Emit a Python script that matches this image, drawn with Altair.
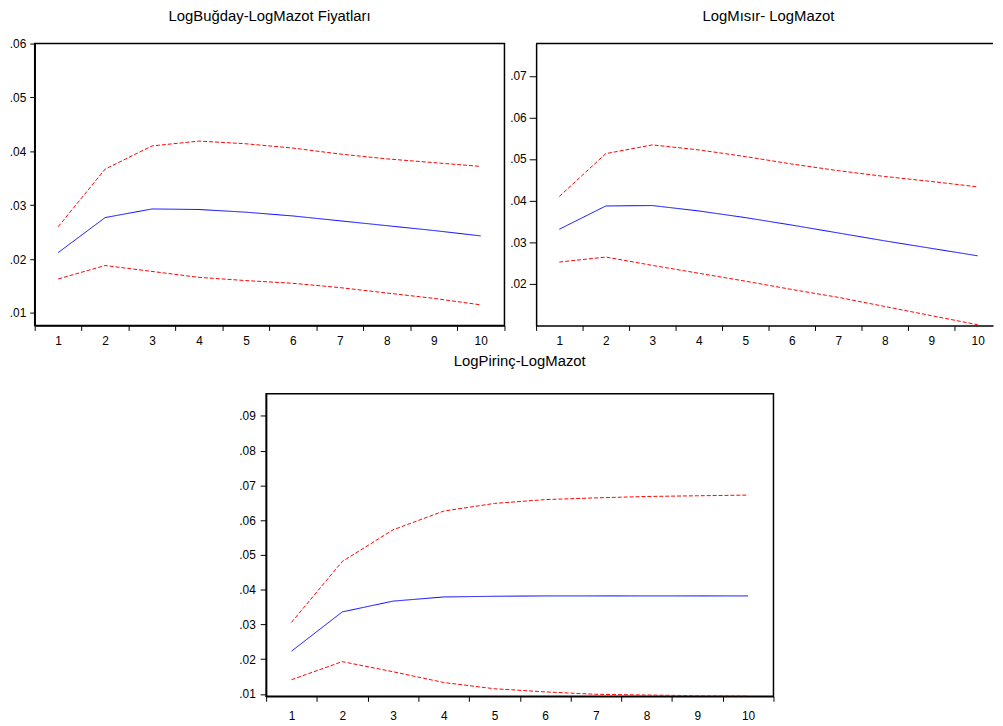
import altair as alt
import pandas as pd

# Horizons (x categories)
horizons = [1, 2, 3, 4, 5, 6, 7, 8, 9, 10]

# Panel 1: LogBuğday-LogMazot Fiyatları
wheat_title = "LogBuğday-LogMazot Fiyatları"
wheat_mid = [0.0212, 0.0277, 0.0293, 0.0292, 0.0287, 0.0280, 0.0271, 0.0262, 0.0253, 0.0243]
wheat_up = [0.0260, 0.0367, 0.0410, 0.0419, 0.0414, 0.0406, 0.0395, 0.0386, 0.0379, 0.0372]
wheat_lo = [0.0163, 0.0188, 0.0177, 0.0166, 0.0160, 0.0155, 0.0147, 0.0137, 0.0127, 0.0115]
wheat_yticks = [0.01, 0.02, 0.03, 0.04, 0.05, 0.06]

# Panel 2: LogMısır- LogMazot
corn_title = "LogMısır- LogMazot"
corn_mid = [0.0331, 0.0387, 0.0388, 0.0375, 0.0359, 0.0341, 0.0322, 0.0303, 0.0285, 0.0267]
corn_up = [0.0410, 0.0513, 0.0534, 0.0522, 0.0506, 0.0488, 0.0472, 0.0458, 0.0446, 0.0433]
corn_lo = [0.0252, 0.0264, 0.0244, 0.0225, 0.0206, 0.0186, 0.0167, 0.0145, 0.0123, 0.0101]
corn_yticks = [0.02, 0.03, 0.04, 0.05, 0.06, 0.07]

# Panel 3: LogPirinç-LogMazot
rice_title = "LogPirinç-LogMazot"
rice_mid = [0.0223, 0.0336, 0.0367, 0.0379, 0.0381, 0.0382, 0.0382, 0.0382, 0.0382, 0.0382]
rice_up = [0.0306, 0.0481, 0.0572, 0.0626, 0.0648, 0.0659, 0.0664, 0.0668, 0.0670, 0.0672]
rice_lo = [0.0141, 0.0193, 0.0164, 0.0133, 0.0115, 0.0106, 0.0099, 0.0097, 0.0095, 0.0094]
rice_yticks = [0.01, 0.02, 0.03, 0.04, 0.05, 0.06, 0.07, 0.08, 0.09]

FONT = "Arial, Liberation Sans, sans-serif"
LABEL_SIZE = 12
TITLE_SIZE = 15


def panel(mid, up, lo, title, yticks, ydom, width, height, band_px,
          ytick=5, ylabpad=4, xlabpad=3, toffset=21, tdx=0, frame=True):
    rows = []
    for name, arr in (("mid", mid), ("up", up), ("lo", lo)):
        for h, v in zip(horizons, arr):
            rows.append({"h": h, "value": v, "band": name})
    df = pd.DataFrame(rows)

    xmin = horizons[0] - 0.5
    xmax = xmin + width / band_px
    xvals = sorted(set([h - 0.5 for h in horizons] + [horizons[-1] + 0.5] + horizons))
    xvals = [v for v in xvals if v <= xmax + 1e-9]

    x = alt.X(
        "h:Q",
        scale=alt.Scale(domain=[xmin, xmax], nice=False, zero=False),
        axis=alt.Axis(
            values=xvals, title=None, grid=False,
            labelExpr="datum.value % 1 === 0 ? format(datum.value, 'd') : ''",
            tickOpacity={"condition": {"test": "datum.value % 1 === 0", "value": 0}, "value": 1},
            tickSize=5, tickColor="black", tickWidth=1,
            domain=True, domainColor="black", domainWidth=1.5,
            labelPadding=xlabpad, labelFontSize=LABEL_SIZE, labelFont=FONT,
            labelColor="black", labelOverlap=False, labelFlush=False,
        ),
    )
    y = alt.Y(
        "value:Q",
        scale=alt.Scale(domain=ydom, nice=False, zero=False),
        axis=alt.Axis(
            values=yticks, title=None, grid=False,
            labelExpr="substring(format(datum.value, '.2f'), 1)",
            tickSize=ytick, tickColor="black", tickWidth=1,
            domain=True, domainColor="black", domainWidth=1.5,
            labelPadding=ylabpad, labelFontSize=LABEL_SIZE, labelFont=FONT,
            labelColor="black", labelOverlap=False, labelFlush=False,
        ),
    )
    lines = alt.Chart(df).mark_line(strokeWidth=1, clip=True).encode(
        x=x,
        y=y,
        color=alt.Color("band:N", scale=alt.Scale(domain=["mid", "up", "lo"],
                                                   range=["#0000ff", "#ff0000", "#ff0000"]), legend=None),
        strokeDash=alt.StrokeDash("band:N", scale=alt.Scale(domain=["mid", "up", "lo"],
                                                             range=[[1, 0], [4, 2], [4, 2]]), legend=None),
        detail="band:N",
    )
    layers = [lines]
    if not frame:
        top = alt.Chart(pd.DataFrame({"a": [0]})).mark_rule(color="black", strokeWidth=1.5).encode(
            x=alt.value(0), x2=alt.value(width), y=alt.value(0))
        layers.append(top)
    ch = alt.layer(*layers).properties(
        width=width, height=height,
        title=alt.TitleParams(title, fontSize=TITLE_SIZE, font=FONT, fontWeight="normal",
                              color="black", offset=toffset, dx=tdx, anchor="middle",
                              frame="group"),
    )
    if not frame:
        ch = ch.properties(view=alt.ViewBackground(stroke="transparent"))
    return ch


p1 = panel(wheat_mid, wheat_up, wheat_lo, wheat_title, wheat_yticks,
           [0.00767, 0.06], 475, 285, 47.47, ytick=5, ylabpad=4, xlabpad=5, toffset=13.5)
p2 = panel(corn_mid, corn_up, corn_lo, corn_title, corn_yticks,
           [0.00993, 0.07779], 462, 285, 47.0, ytick=7, ylabpad=3, xlabpad=5, toffset=19.5,
           tdx=4, frame=False)
p3 = panel(rice_mid, rice_up, rice_lo, rice_title, rice_yticks,
           [0.00932, 0.09636], 513, 306, 51.3, ytick=6, ylabpad=5, xlabpad=9, toffset=25)

spacer = alt.Chart(pd.DataFrame({"s": [0]})).mark_point(opacity=0, size=0).encode(
    x=alt.X("s:Q", axis=None), y=alt.Y("s:Q", axis=None)
).properties(width=204, height=10, view=alt.ViewBackground(stroke="transparent"))

top_row = alt.hconcat(p1, p2, spacing=2)
bottom_row = alt.hconcat(spacer, p3, spacing=0)

chart = alt.vconcat(top_row, bottom_row, spacing=6).properties(
    padding={"left": 0, "top": -4, "right": 0, "bottom": 0},
    background="white",
).configure_view(
    stroke="black", strokeWidth=1.5
)

chart.save("out.html", embed_options={"renderer": "svg", "actions": False})
